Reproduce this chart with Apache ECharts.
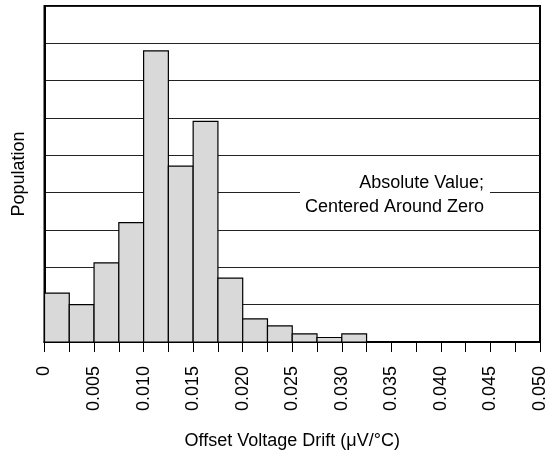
<!DOCTYPE html>
<html>
<head>
<meta charset="utf-8">
<script src="https://cdn.jsdelivr.net/npm/echarts@6/dist/echarts.min.js"></script>
<style>
  html, body { margin: 0; padding: 0; background: #fff; }
  #main { width: 559px; height: 456px; }
</style>
</head>
<body>
<div id="main"></div>
<script>
// bin edges of the histogram (µV/°C), one bin per 0.0025
var binStart = [0, 0.0025, 0.005, 0.0075, 0.01, 0.0125, 0.015, 0.0175, 0.02, 0.0225,
                0.025, 0.0275, 0.03, 0.0325, 0.035, 0.0375, 0.04, 0.0425, 0.045, 0.0475];
var binEnd = [0.0025, 0.005, 0.0075, 0.01, 0.0125, 0.015, 0.0175, 0.02, 0.0225, 0.025,
              0.0275, 0.03, 0.0325, 0.035, 0.0375, 0.04, 0.0425, 0.045, 0.0475, 0.05];
// population per bin, in grid units (no scale on the original)
var population = [1.31, 1.0, 2.12, 3.2, 7.8, 4.71, 5.91, 1.71, 0.62, 0.43,
                  0.22, 0.12, 0.22, 0, 0, 0, 0, 0, 0, 0];
var tickLabels = ['0', '', '0.005', '', '0.010', '', '0.015', '', '0.020', '', '0.025', '',
                  '0.030', '', '0.035', '', '0.040', '', '0.045', '', '0.050'];

var FONT = 'Liberation Sans';
var myChart = echarts.init(document.getElementById('main'), null, { renderer: 'canvas' });

var data = [];
for (var i = 0; i < binStart.length; i++) {
  data.push([binStart[i], binEnd[i], population[i]]);
}

var option = {
  animation: false,
  backgroundColor: '#fff',
  textStyle: { fontFamily: FONT },
  grid: {
    left: 44.5, right: 19, top: 6, bottom: 114,
    show: true, borderColor: '#000', borderWidth: 2
  },
  xAxis: {
    type: 'value',
    min: 0, max: 0.05, interval: 0.0025,
    name: 'Offset Voltage Drift (\u03BCV/\u00B0C)',
    nameLocation: 'middle',
    nameGap: 90,
    nameTextStyle: { color: '#000', fontSize: 18, fontFamily: FONT },
    axisLine: { lineStyle: { color: '#000', width: 2 } },
    axisTick: { show: true, inside: false, length: 10, lineStyle: { color: '#000', width: 1 } },
    splitLine: { show: false },
    axisLabel: {
      rotate: 90,
      margin: 24,
      color: '#000',
      fontSize: 18,
      fontFamily: FONT,
      showMinLabel: true,
      showMaxLabel: true,
      formatter: function (v) {
        var idx = Math.round(v / 0.0025);
        return tickLabels[idx] || '';
      }
    }
  },
  yAxis: {
    type: 'value',
    min: 0, max: 9, interval: 1,
    name: 'Population',
    nameLocation: 'middle',
    nameGap: 16,
    nameTextStyle: { color: '#000', fontSize: 18, fontFamily: FONT },
    axisLine: { show: true, lineStyle: { color: '#000', width: 2 } },
    axisTick: { show: false },
    axisLabel: { show: false },
    splitLine: { show: true, lineStyle: { color: '#222', width: 1 } }
  },
  series: [{
    type: 'custom',
    renderItem: function (params, api) {
      var h = api.value(2);
      if (!h) return null;
      var p0 = api.coord([api.value(0), h]);
      var p1 = api.coord([api.value(1), 0]);
      return {
        type: 'rect',
        shape: { x: p0[0], y: p0[1], width: p1[0] - p0[0], height: p1[1] - p0[1] },
        style: { fill: '#d9d9d9', stroke: '#000', lineWidth: 1.2 }
      };
    },
    encode: { x: [0, 1], y: 2 },
    data: data,
    z: 3
  }],
  graphic: [
    { type: 'rect', left: 300, top: 188, shape: { width: 190, height: 10 },
      style: { fill: '#fff' }, z: 10 },
    { type: 'text', right: 559 - 484, top: 174,
      style: { text: 'Absolute Value;', fill: '#000', font: '18px "' + FONT + '"', align: 'right' }, z: 11 },
    { type: 'text', right: 559 - 484, top: 198,
      style: { text: 'Centered Around Zero', fill: '#000', font: '18px "' + FONT + '"', align: 'right' }, z: 11 }
  ]
};

myChart.setOption(option);
</script>
</body>
</html>
